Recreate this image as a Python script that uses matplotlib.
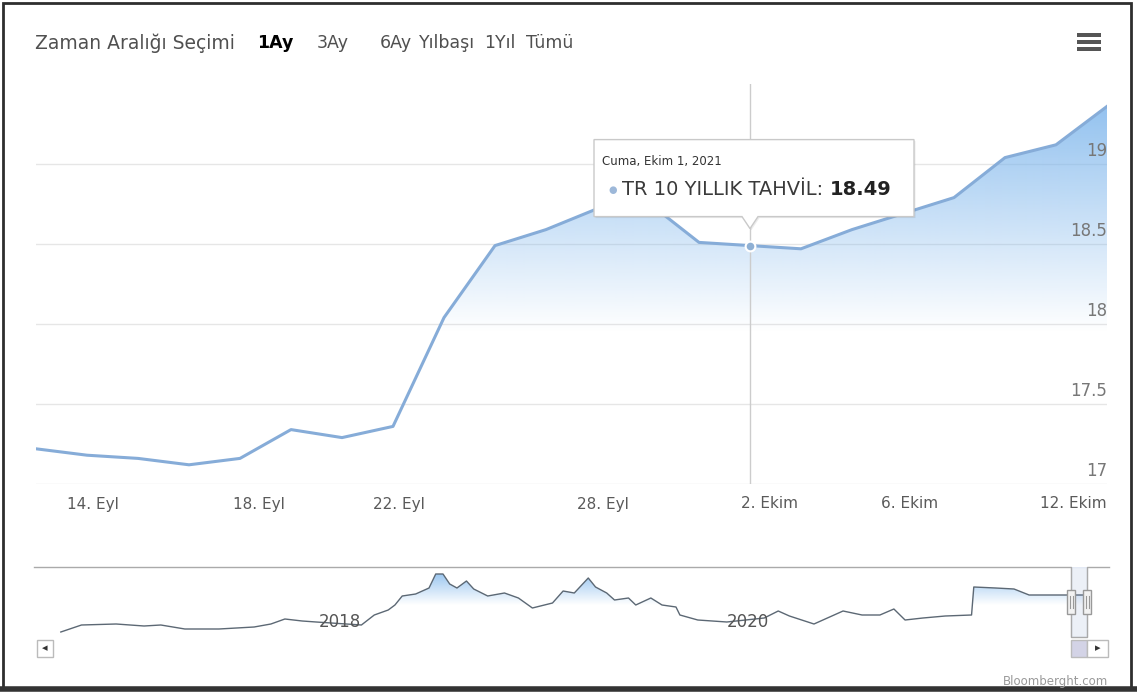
import numpy as np
import matplotlib
matplotlib.use("Agg")
from matplotlib import pyplot as plt
from matplotlib import transforms
from matplotlib.patches import Polygon, Rectangle
from matplotlib.lines import Line2D
import matplotlib.dates as mdates

plt.rcParams['font.family'] = ['DejaVu Sans']

W, H = 1137, 693

# TR 10 yillik tahvil, son 1 ay (islem gunleri)
dates = ["2021-09-13", "2021-09-14", "2021-09-15", "2021-09-16", "2021-09-17",
         "2021-09-20", "2021-09-21", "2021-09-22", "2021-09-23", "2021-09-24",
         "2021-09-27", "2021-09-28", "2021-09-29", "2021-09-30", "2021-10-01",
         "2021-10-04", "2021-10-05", "2021-10-06", "2021-10-07", "2021-10-08",
         "2021-10-11", "2021-10-12"]
values = [17.22, 17.18, 17.16, 17.12, 17.16, 17.34, 17.29, 17.36, 18.04, 18.49,
          18.59, 18.72, 18.76, 18.51, 18.49, 18.47, 18.59, 18.69, 18.79, 19.04,
          19.12, 19.36]

# axis labels sit at UTC midnight, points at local (UTC+3) midnight
tick_dates = ["2021-09-14 03:00", "2021-09-18 03:00", "2021-09-22 03:00", "2021-09-28 03:00",
              "2021-10-02 03:00", "2021-10-06 03:00", "2021-10-12"]
tick_labels = ["14. Eyl", "18. Eyl", "22. Eyl", "28. Eyl", "2. Ekim", "6. Ekim", "12. Ekim"]
ytick_values = [17, 17.5, 18, 18.5, 19]
ytick_labels = ["17", "17.5", "18", "18.5", "19"]

hover_index = 14
tooltip_date = "Cuma, Ekim 1, 2021"
series_name = "TR 10 YILLIK TAHVİL"

# navigator: tum gecmis (kabaca okunmus)
nav_dates = ["2016-10-01", "2016-11-07", "2017-01-08", "2017-02-27", "2017-03-29",
             "2017-05-11", "2017-07-11", "2017-09-12", "2017-10-12", "2017-11-06",
             "2017-12-07", "2018-01-01", "2018-03-23", "2018-04-15", "2018-05-10",
             "2018-05-22", "2018-06-04", "2018-06-28", "2018-07-22", "2018-08-03",
             "2018-08-16", "2018-08-28", "2018-09-10", "2018-09-27", "2018-10-10",
             "2018-11-04", "2018-12-04", "2018-12-29", "2019-01-23", "2019-02-28",
             "2019-03-19", "2019-04-08", "2019-05-03", "2019-05-16", "2019-06-05",
             "2019-06-19", "2019-07-14", "2019-07-27", "2019-08-23", "2019-09-12",
             "2019-10-07", "2019-10-14", "2019-11-15", "2020-01-06", "2020-03-13",
             "2020-04-07", "2020-04-27", "2020-06-10", "2020-08-01", "2020-09-04",
             "2020-10-06", "2020-10-31", "2020-11-20", "2020-12-22", "2021-01-31",
             "2021-03-19", "2021-03-23", "2021-05-01", "2021-06-03", "2021-06-30",
             "2021-08-28", "2021-10-12"]
nav_values = [13.54, 14.38, 14.50, 14.26, 14.38, 13.90, 13.90, 14.14, 14.50, 15.10,
              14.86, 14.74, 14.38, 15.58, 16.18, 16.78, 17.86, 18.10, 18.82, 20.50,
              20.50, 19.30, 18.82, 19.66, 18.70, 17.86, 18.22, 17.62, 16.42, 17.02,
              18.46, 18.22, 20.02, 18.94, 18.22, 17.38, 17.62, 16.78, 17.62, 16.78,
              16.54, 15.58, 14.98, 14.74, 15.22, 16.06, 15.46, 14.50, 16.06, 15.58,
              15.58, 16.30, 14.98, 15.22, 15.46, 15.58, 18.94, 18.82, 18.70, 17.98,
              17.98, 17.98]
nav_years = ["2018", "2020"]

buttons = ["1Ay", "3Ay", "6Ay", "Yılbaşı", "1Yıl", "Tümü"]
button_x = [257, 317, 380, 419, 484, 526]

area_rgb = np.array([124, 181, 236]) / 255.0


def rect_px(x0, y0, x1, y1, **kw):
    r = Rectangle((x0 / W, 1 - y1 / H), (x1 - x0) / W, (y1 - y0) / H,
                  transform=fig.transFigure, **kw)
    fig.add_artist(r)
    return r


def text_px(x, y, s, **kw):
    return fig.text(x / W, 1 - y / H, s, **kw)


def gradient_fill(a, x, y, xlim, ylim, lo, hi, amax):
    verts = [(x[0], ylim[0])] + list(zip(x, y)) + [(x[-1], ylim[0])]
    poly = Polygon(verts, closed=True, fc='none', ec='none')
    a.add_patch(poly)
    yy = np.linspace(ylim[0], ylim[1], 400)
    alpha = np.clip((yy - lo) / (hi - lo), 0, 1) * amax
    img = np.zeros((400, 2, 4))
    img[..., :3] = area_rgb
    img[..., 3] = alpha[:, None]
    im = a.imshow(img, extent=(xlim[0], xlim[1], ylim[0], ylim[1]), origin='lower',
                  aspect='auto', zorder=1, interpolation='bilinear')
    im.set_clip_path(poly)


fig = plt.figure(figsize=(W / 100, H / 100), dpi=100, facecolor='white')

# ---- main chart ----
dnum = mdates.datestr2num(dates)
x = np.arange(len(dates))
tick_x = np.interp(mdates.datestr2num(tick_dates), dnum, x)

ax = fig.add_axes([36 / W, 1 - 484 / H, 1071 / W, 400 / H])
xlim = (0, len(dates) - 1)
ylim = (17, 19.5)

for v in ytick_values:
    ax.axhline(v, color='#e6e6e6', lw=1, zorder=0)
gradient_fill(ax, x, values, xlim, ylim, 17.95, 19.5, 0.9)
ax.axvline(hover_index, color='#cccccc', lw=1, zorder=2)
ax.plot(x, values, color='#86acd8', lw=2.2, zorder=3, solid_joinstyle='round')
ax.plot(hover_index, values[hover_index], 'o', ms=7, mfc='#8fb0d4', mec='white', mew=1.5, zorder=6)

ax.set_xlim(*xlim)
ax.set_ylim(*ylim)
for s in ax.spines.values():
    s.set_visible(False)
ax.set_yticks([])
ax.set_xticks(tick_x, tick_labels)
ax.tick_params(axis='x', length=0, pad=9, labelsize=11, labelcolor='#5a5a5a')
ax.get_xticklabels()[-1].set_horizontalalignment('right')

ylab_tr = transforms.offset_copy(ax.get_yaxis_transform(), fig=fig, x=0, y=4, units='dots')
for v, lab in zip(ytick_values, ytick_labels):
    ax.text(1.0, v, lab, transform=ylab_tr, ha='right', va='bottom', fontsize=12, color='#777777')

# ---- tooltip ----
disp = ax.transData.transform((hover_index, values[hover_index]))
axp, ayp = disp[0], H - disp[1]
bl, br, bt, bb = axp - 156, axp + 164, ayp - 106, ayp - 29
shape = [(bl, bt), (br, bt), (br, bb), (axp + 8, bb), (axp, ayp - 17), (axp - 8, bb), (bl, bb)]
shadow = Polygon([((px + 1.5) / W, 1 - (py + 1.5) / H) for px, py in shape], closed=True,
                 transform=fig.transFigure, fc='#000000', alpha=0.08, ec='none', zorder=9)
fig.add_artist(shadow)
box = Polygon([(px / W, 1 - py / H) for px, py in shape], closed=True,
              transform=fig.transFigure, fc='white', ec='#c9c9c9', lw=1, zorder=10)
fig.add_artist(box)
text_px(bl + 8, ayp - 84, tooltip_date, fontsize=8.5, color='#333333', va='center', zorder=11)
text_px(bl + 19, ayp - 56, "●", fontsize=7, color='#9db8d9', va='center', ha='center', zorder=11)
t1 = text_px(bl + 28, ayp - 56, series_name + ": ", fontsize=14, color='#3a3a3a',
             va='center', zorder=11)
fig.add_artist(matplotlib.text.Annotation(f"{values[hover_index]:.2f}", xy=(1, 0.5), xycoords=t1,
                                          va='center', ha='left', fontsize=14,
                                          fontweight='bold', color='#222222', zorder=11))

# ---- header ----
text_px(35, 43, "Zaman Aralığı Seçimi", fontsize=13.5, color='#505050', va='center')
for i, (b, bx) in enumerate(zip(buttons, button_x)):
    text_px(bx, 43, b, fontsize=12.5, va='center',
            color='#000000' if i == 0 else '#505050',
            fontweight='bold' if i == 0 else 'normal')
for yy in (35, 42, 49):
    rect_px(1077, yy - 1.8, 1101, yy + 1.8, fc='#555555', ec='none')

# ---- navigator ----
nav = fig.add_axes([34 / W, 1 - 637 / H, (1109 - 34) / W, 70 / H])
nx = mdates.datestr2num(nav_dates)
nxlim = (mdates.datestr2num("2016-08-14"), mdates.datestr2num("2021-11-20"))
nylim = (12.94, 21.34)
gradient_fill(nav, nx, nav_values, nxlim, nylim, 16.8, 21.0, 0.85)
nav.plot(nx, nav_values, color='#5c6874', lw=1.0, zorder=3)
nav.set_xlim(*nxlim)
nav.set_ylim(*nylim)
nav.axis('off')

h1, h2 = dnum[0], dnum[-1]
nav.axvspan(h1, h2, color=(0.4, 0.52, 0.76), alpha=0.12, zorder=4)
nav.plot([nxlim[0], h1, h1, h2, h2, nxlim[1]], [1, 1, 0, 0, 1, 1],
         transform=nav.get_xaxis_transform(), color='#aaaaaa', lw=1, clip_on=False, zorder=5)

yl_tr = transforms.offset_copy(nav.get_xaxis_transform(), fig=fig, x=3, y=0, units='dots')
for yr in nav_years:
    nav.text(mdates.datestr2num(yr + "-01-01"), 0.21, yr, transform=yl_tr, ha='left',
             va='center', fontsize=12, color='#555555', zorder=6)

hx = [nav.transData.transform((h, 0))[0] for h in (h1, h2)]
for h in hx:
    rect_px(h - 4, 590, h + 4, 614, fc='#f2f2f2', ec='#999999', lw=1, zorder=7)
    for dx in (-1.5, 1.5):
        fig.add_artist(Line2D([(h + dx) / W] * 2, [1 - 596 / H, 1 - 608 / H],
                              transform=fig.transFigure, color='#999999', lw=0.8, zorder=8))

# scrollbar
rect_px(37, 640, 53, 657, fc='white', ec='#bbbbbb', lw=1)
text_px(45, 648.5, "◂", fontsize=8, color='#333333', ha='center', va='center')
rect_px(hx[0], 640, hx[1], 657, fc='#d3d3e6', ec='#bbbbbb', lw=1)
rect_px(hx[1], 640, 1108, 657, fc='white', ec='#bbbbbb', lw=1)
text_px((hx[1] + 1108) / 2, 648.5, "▸", fontsize=8, color='#333333', ha='center', va='center')

text_px(1108, 681, "Bloomberght.com", fontsize=8.5, color='#999999', ha='right', va='center')

# scan frame
rect_px(3, 3, 1131, 688, fill=False, ec='#2e2e2e', lw=2)
fig.add_artist(Line2D([0, 1], [1 - 689 / H] * 2, transform=fig.transFigure, color='#333333', lw=4))

fig.savefig("out.png", dpi=100, facecolor='white')
